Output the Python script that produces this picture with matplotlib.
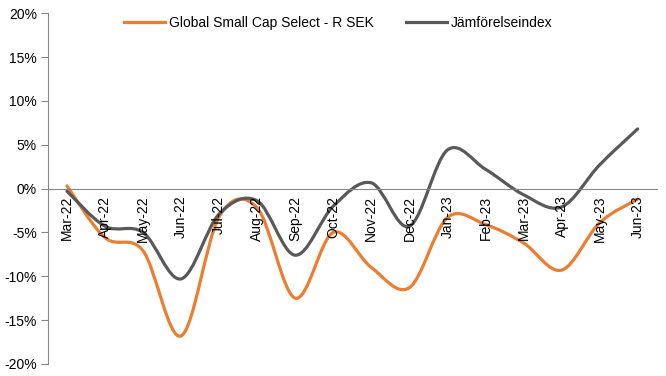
import numpy as np
import matplotlib.pyplot as plt
from matplotlib.path import Path
from matplotlib.patches import PathPatch
from matplotlib.lines import Line2D

months = ["Mar-22", "Apr-22", "May-22", "Jun-22", "Jul-22", "Aug-22", "Sep-22", "Oct-22",
          "Nov-22", "Dec-22", "Jan-23", "Feb-23", "Mar-23", "Apr-23", "May-23", "Jun-23"]
fund = [0.3, -5.6, -7.1, -16.8, -3.2, -2.2, -12.5, -5.0,
        -9.0, -11.3, -3.3, -4.1, -6.2, -9.3, -3.9, -1.2]
index = [-0.3, -4.3, -5.0, -10.3, -2.9, -1.4, -7.6, -2.0,
         0.65, -4.3, 4.4, 2.2, -0.7, -2.1, 2.7, 6.8]
yticks = [-20, -15, -10, -5, 0, 5, 10, 15, 20]

fund_name = "Global Small Cap Select - R SEK"
index_name = "Jämförelseindex"
orange = "#ED7D31"
grey = "#595959"
axis_grey = "#868686"

plt.rcParams['font.family'] = ['Liberation Sans', 'DejaVu Sans']


def smooth_path(xs, ys):
    # excel-style smoothed line: cubic bezier with catmull-rom control points
    pts = np.column_stack([xs, ys]).astype(float)
    n = len(pts)
    verts = [pts[0]]
    codes = [Path.MOVETO]
    for i in range(n - 1):
        p0 = pts[max(i - 1, 0)]
        p1 = pts[i]
        p2 = pts[i + 1]
        p3 = pts[min(i + 2, n - 1)]
        c1 = p1 + (p2 - p0) / 6.0
        c2 = p2 - (p3 - p1) / 6.0
        verts += [c1, c2, p2]
        codes += [Path.CURVE4] * 3
    return Path(verts, codes)


fig = plt.figure(figsize=(6.66, 3.76), dpi=100)
ax = fig.add_axes([0.072, 0.032, 0.914, 0.933])

ax.spines['top'].set_visible(False)
ax.spines['right'].set_visible(False)
ax.spines['bottom'].set_position(('data', 0))
ax.spines['bottom'].set_color(axis_grey)
ax.spines['left'].set_color(axis_grey)

x = np.arange(len(months))
for ys, col in [(fund, orange), (index, grey)]:
    patch = PathPatch(smooth_path(x, ys), facecolor='none', edgecolor=col,
                      lw=2.3, capstyle='round', joinstyle='round')
    ax.add_patch(patch)

ax.set_xlim(-0.5, len(months) - 0.5)
ax.set_ylim(-20, 20)
ax.set_yticks(yticks)
ax.set_yticklabels([f"{v}%" for v in yticks])
ax.set_xticks(x)
ax.set_xticklabels(months)

ax.tick_params(axis='x', length=0, pad=5, labelsize=10, colors='black', labelrotation=90)
ax.tick_params(axis='y', length=5, width=0.8, color=axis_grey, pad=3, labelsize=10)

handles = [Line2D([], [], color=orange, lw=2.3), Line2D([], [], color=grey, lw=2.3)]
ax.legend(handles, [fund_name, index_name], loc='center', bbox_to_anchor=(0.477, 0.971),
          ncol=2, frameon=False, fontsize=10, handlelength=2.95, handletextpad=0.3,
          columnspacing=2.3)

fig.savefig("out.png", dpi=100)
